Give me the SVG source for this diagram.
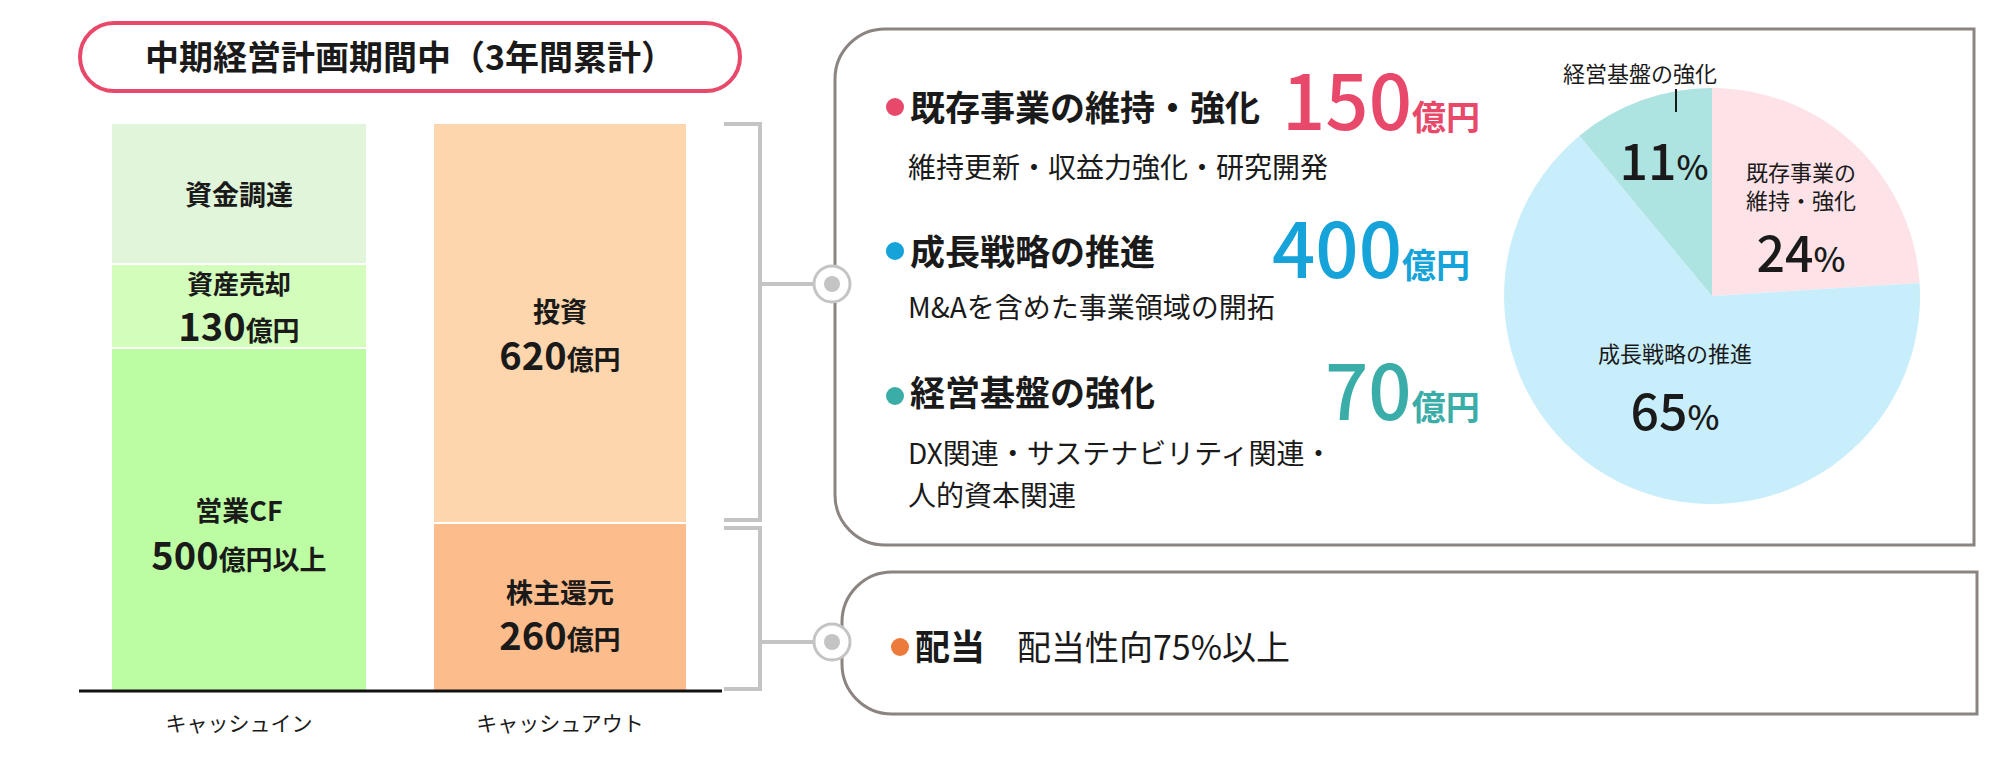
<svg xmlns="http://www.w3.org/2000/svg" width="2000" height="758" viewBox="0 0 2000 758">
<style>
text{font-family:"Noto Sans CJK JP","Noto Sans",sans-serif;fill:#1a1a1a}
.b{font-weight:700}
.c{text-anchor:middle}
.br{fill:none;stroke:#c4c4c4;stroke-width:4}
.box{fill:#fff;stroke:#8c8480;stroke-width:3}
</style>
<rect width="2000" height="758" fill="#fff"/>
<g id="title"><rect x="80" y="23" width="660" height="68" rx="34" fill="#fff" stroke="#e8496a" stroke-width="4"/>
<text x="410" y="70" class="c b" font-size="34">中期経営計画期間中（3年間累計）</text></g>
<g id="in">
<rect x="112" y="124" width="254" height="139" fill="#e1f5da"/>
<text x="239" y="205" class="c b" font-size="27">資金調達</text>
<rect x="112" y="265" width="254" height="82" fill="#d2fdbb"/>
<text x="239" y="294" class="c b" font-size="26">資産売却</text>
<text x="239" y="341" class="c b" font-size="38">130<tspan font-size="27">億円</tspan></text>
<rect x="112" y="349" width="254" height="341" fill="#bcfda3"/>
<text x="239" y="521" class="c b" font-size="27">営業CF</text>
<text x="239" y="570" class="c b" font-size="38">500<tspan font-size="27">億円以上</tspan></text>
</g>
<g id="out">
<rect x="434" y="124" width="252" height="398" fill="#fed6ad"/>
<text x="560" y="322" class="c b" font-size="27">投資</text>
<text x="560" y="370" class="c b" font-size="38">620<tspan font-size="27">億円</tspan></text>
<rect x="434" y="524" width="252" height="166" fill="#fdbc8c"/>
<text x="560" y="603" class="c b" font-size="27">株主還元</text>
<text x="560" y="650" class="c b" font-size="38">260<tspan font-size="27">億円</tspan></text>
</g>
<line x1="79" y1="691" x2="722" y2="691" stroke="#111" stroke-width="3"/>
<text x="239" y="731" class="c" font-size="21">キャッシュイン</text>
<text x="560" y="731" class="c" font-size="21">キャッシュアウト</text>
<g id="box1"><path class="box" d="M885 29 H1974 V545 H885 A50 50 0 0 1 835 495 V79 A50 50 0 0 1 885 29Z"/>
<circle cx="895" cy="107" r="9" fill="#e8496a"/>
<text x="910" y="121" class="b" font-size="35">既存事業の維持・強化</text>
<text x="1282" y="130" font-size="76" font-weight="500" style="fill:#e8496a">150<tspan font-size="34" font-weight="700">億円</tspan></text>
<text x="908" y="178" font-size="28">維持更新・収益力強化・研究開発</text>
<circle cx="895" cy="251" r="9" fill="#15a3d9"/>
<text x="910" y="265" class="b" font-size="35">成長戦略の推進</text>
<text x="1272" y="278" font-size="76" font-weight="500" style="fill:#15a3d9">400<tspan font-size="34" font-weight="700">億円</tspan></text>
<text x="908" y="318" font-size="28">M&amp;Aを含めた事業領域の開拓</text>
<circle cx="895" cy="396" r="9" fill="#3aada8"/>
<text x="910" y="406" class="b" font-size="35">経営基盤の強化</text>
<text x="1325" y="420" font-size="76" font-weight="500" style="fill:#3aada8">70<tspan font-size="34" font-weight="700">億円</tspan></text>
<text x="908" y="464" font-size="28">DX関連・サステナビリティ関連・</text>
<text x="908" y="506" font-size="28">人的資本関連</text>
</g>
<g id="pie">
<path d="M1712 296 V88 A208 208 0 0 1 1919.6 282.9Z" fill="#fde3e8"/>
<path d="M1712 296 L1919.6 282.9 A208 208 0 1 1 1579.5 135.8Z" fill="#c9eefb"/>
<path d="M1712 296 L1579.5 135.8 A208 208 0 0 1 1712 88Z" fill="#ade3e0"/>
<text x="1640" y="82" class="c" font-size="22">経営基盤の強化</text>
<line x1="1676" y1="89" x2="1676" y2="112" stroke="#1a1a1a" stroke-width="2"/>
<text x="1664" y="180" class="c" font-size="50" font-weight="500">11<tspan font-size="34">%</tspan></text>
<text x="1801" y="181" class="c" font-size="22">既存事業の</text>
<text x="1801" y="209" class="c" font-size="22">維持・強化</text>
<text x="1801" y="272" class="c" font-size="50" font-weight="500">24<tspan font-size="34">%</tspan></text>
<text x="1675" y="362" class="c" font-size="22">成長戦略の推進</text>
<text x="1675" y="430" class="c" font-size="50" font-weight="500">65<tspan font-size="34">%</tspan></text>
</g>
<g id="box2"><path class="box" d="M892 572 H1977 V714 H892 A50 50 0 0 1 842 664 V622 A50 50 0 0 1 892 572Z"/>
<circle cx="900" cy="647" r="9" fill="#ec7a3a"/>
<text x="915" y="660" class="b" font-size="35">配当</text>
<text x="1017" y="660" font-size="34">配当性向75%以上</text>
</g>
<g id="connectors">
<path class="br" d="M724 124 H760 V520 H724 M724 528 H760 V689 H724 M760 284 H820 M760 642 H820"/>
<circle cx="832" cy="284" r="18" fill="#fff" stroke="#c4c4c4" stroke-width="3"/>
<circle cx="832" cy="284" r="8" fill="#c4c4c4"/>
<circle cx="832" cy="642" r="18" fill="#fff" stroke="#c4c4c4" stroke-width="3"/>
<circle cx="832" cy="642" r="8" fill="#c4c4c4"/>
</g>
</svg>
